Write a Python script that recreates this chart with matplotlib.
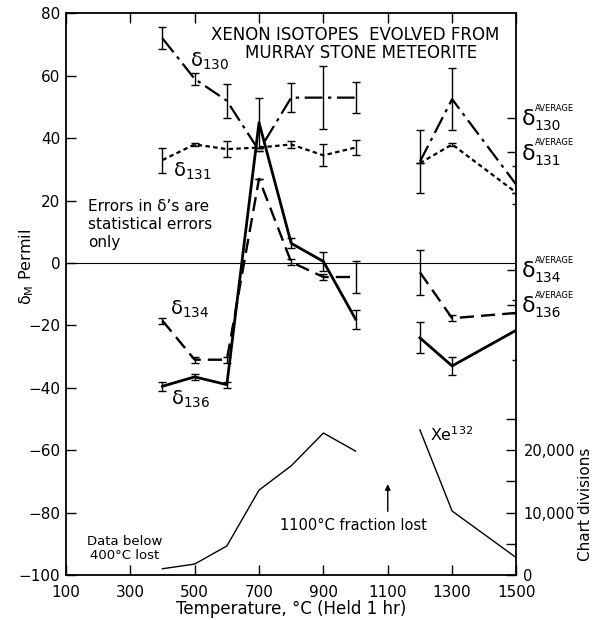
import numpy as np
import matplotlib
matplotlib.use("Agg")
import matplotlib.pyplot as plt
from matplotlib.ticker import FixedLocator, FuncFormatter

# Temperature steps (1100 C fraction lost -> NaN gap)
temps = [400, 500, 600, 700, 800, 900, 1000, 1100, 1200, 1300, 1500]
nan = np.nan

d130 = [72, 59, 52, 36, 53, 53, 53, nan, 32.5, 52.5, 25]
d130_err = [3.5, 2, 5.5, 0, 4.7, 10, 5, nan, 10, 10, 6]

d131 = [33, 38, 36.5, 37, 38, 34.5, 37, nan, 32, 38, 22.5]
d131_err = [4, 0.5, 2.5, 0, 1, 3.5, 2.5, nan, 0, 0.5, 0]

d134 = [-18.5, -31, -31, 27, 0.3, -4.5, -4.5, nan, -3, -17.7, -16]
d134_err = [1, 1, 1, 0, 1, 1, 5, nan, 7.2, 1, 0]

d136 = [-39.5, -36.5, -39, 45, 6.3, 0.5, -18, nan, -24, -33, -21.5]
d136_err = [1.5, 1, 1, 8, 1.6, 3, 3, nan, 5, 3, 9.5]

# Xe132 release, chart divisions (right axis)
xe132 = [1000, 1750, 4650, 13600, 17500, 22750, 19850, nan, 23250, 10250, 2750]

# average deltas marked on the right frame
avg_names = ['130', '131', '134', '136']
avg_values = [46.5, 35.5, -2.2, -13.5]

plt.rcParams['font.family'] = ['DejaVu Sans']

fig = plt.figure(figsize=(5.94, 6.2), dpi=100)
ax = fig.add_axes([0.111, 0.0726, 0.7585, 0.9058])

ax.set_xlim(100, 1500)
ax.set_ylim(-100, 80)
ax.axhline(0, color='black', lw=0.8)

eb = dict(ecolor='black', elinewidth=1.0, capsize=3, capthick=1.0, color='black')
ax.errorbar(temps, d130, yerr=d130_err, lw=1.6, dashes=(8, 2.5, 1.5, 2.5), **eb)
ax.errorbar(temps, d131, yerr=d131_err, lw=1.6, dashes=(2, 1.5), **eb)
ax.errorbar(temps, d134, yerr=d134_err, lw=1.7, dashes=(6, 3), **eb)
ax.errorbar(temps, d136, yerr=d136_err, lw=2.0, ls='-', **eb)

# right axis for Xe132
ax2 = ax.twinx()
ax2.set_ylim(0, 90000)
ax2.plot(temps, xe132, color='black', lw=1.0)
ax2.yaxis.set_major_locator(FixedLocator([0, 10000, 20000]))
ax2.yaxis.set_minor_locator(FixedLocator([5000, 15000, 25000]))
ax2.yaxis.set_major_formatter(FuncFormatter(lambda v, p: f"{int(v):,}"))
ax2.tick_params(axis='y', direction='in', length=7, width=1.0, pad=5, labelsize=10.5)
ax2.tick_params(axis='y', which='minor', direction='in', length=7, width=1.0)
for s in ax2.spines.values():
    s.set_visible(False)

# average ticks on the right frame
x_av = 1500 - (1500 - 100) * 0.02
ax.hlines(avg_values, x_av, 1500, color='black', lw=1.0)

# axes styling
ax.set_xticks([100, 300, 500, 700, 900, 1100, 1300, 1500])
ax.set_yticks(np.arange(-100, 81, 20))
ax.tick_params(axis='both', direction='in', length=7, width=1.0, labelsize=11, pad=4)
ax.tick_params(axis='x', top=True, pad=7)
ax.tick_params(axis='y', right=False)
ax.set_yticklabels([f"{v}".replace('-', '\u2212') for v in range(-100, 81, 20)])
for s in ax.spines.values():
    s.set_linewidth(1.3)

ax.set_xlabel("Temperature, \u00b0C (Held 1 hr)", fontsize=12, labelpad=0)

# y labels (placed manually, like the original)
fig.text(0.045, 1 - 267 / 620, r"$\mathregular{\delta_M}$ Permil", rotation=90,
         fontsize=11.5, ha='center', va='center')
fig.text(0.985, 1 - 504 / 620, "Chart divisions", rotation=90, fontsize=11,
         ha='center', va='center')

# title, two lines
ax.text(998, 73.2, "XENON ISOTOPES  EVOLVED FROM", ha='center', va='center',
        fontsize=12)
ax.text(1018, 67.4, "MURRAY STONE METEORITE", ha='center', va='center',
        fontsize=12)

# series labels
lab = r"$\mathregular{\delta_{%s}}$"
ax.text(484, 63, lab % '130', fontsize=14, va='baseline')
ax.text(432, 27.6, lab % '131', fontsize=14, va='baseline')
ax.text(422, -16.7, lab % '134', fontsize=14, va='baseline')
ax.text(428, -45.5, lab % '136', fontsize=14, va='baseline')

ax.text(168, 20.5, "Errors in \u03b4\u2019s are\nstatistical errors\nonly",
        fontsize=11, va='top', ha='left', linespacing=1.25)

ax.text(283, -91.5, "Data below\n400\u00b0C lost", fontsize=9.5, ha='center',
        va='center', linespacing=1.15)
ax.text(993, -84, "1100\u00b0C fraction lost", fontsize=10.5, ha='center', va='center')
ax.annotate("", xy=(1100, -70), xytext=(1100, -80.5),
            arrowprops=dict(arrowstyle='-|>', color='black', lw=1.0,
                            mutation_scale=8))
ax.text(1232, -55, r"Xe$^{132}$", fontsize=11.5, va='center', ha='left')

# right-side average labels
for name, y in zip(avg_names, avg_values):
    ax.annotate(r"$\mathregular{\delta}$", xy=(1, y),
                xycoords=('axes fraction', 'data'),
                xytext=(3, -1), textcoords='offset points', fontsize=16,
                ha='left', va='center', annotation_clip=False)
    ax.annotate("AVERAGE", xy=(1, y), xycoords=('axes fraction', 'data'),
                xytext=(13, 7), textcoords='offset points', fontsize=6,
                ha='left', va='center', annotation_clip=False)
    ax.annotate(name, xy=(1, y), xycoords=('axes fraction', 'data'),
                xytext=(13, -6), textcoords='offset points', fontsize=10,
                ha='left', va='center', annotation_clip=False)

fig.savefig("out.png", dpi=100)
